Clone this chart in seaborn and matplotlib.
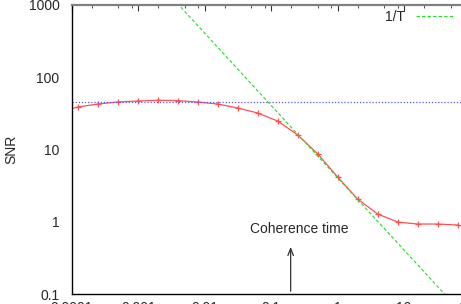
import matplotlib
matplotlib.use("Agg")
import matplotlib.pyplot as plt
import matplotlib.ticker as mticker
import seaborn as sns
import pandas as pd
import numpy as np

# integration time T (powers of two) and measured SNR
T = [2.0 ** k for k in range(-14, 7)]
snr = [33.0, 38.7, 42.6, 45.4, 46.9, 48.0, 47.5, 45.4, 42.6, 37.5, 32.0,
       24.8, 15.9, 8.7, 4.16, 2.06, 1.28, 0.99, 0.93, 0.93, 0.90]

# 1/T reference line (end points)
fit_T = [0.001, 100.0]
fit_snr = [4060.0, 0.0406]

# flat SNR level (dotted blue)
snr_level = 45.5

xticks = [0.0001, 0.001, 0.01, 0.1, 1, 10, 100]
xtick_labels = ["0.0001", "0.001", "0.01", "0.1", "1", "10", "100"]
yticks = [0.1, 1, 10, 100, 1000]
ytick_labels = ["0.1", "1", "10", "100", "1000"]

sns.set_theme(style="white")
plt.rcParams["font.family"] = ["Liberation Sans", "DejaVu Sans"]
plt.rcParams["font.size"] = 10

fig = plt.figure(figsize=(4.61, 3.04), dpi=100)
ax = fig.add_axes([72 / 461, 10 / 304, 398.5 / 461, 289 / 304])

df = pd.DataFrame({"T": T, "SNR": snr})
fit_df = pd.DataFrame({"T": fit_T, "SNR": fit_snr})

green = "#22dd22"
sns.lineplot(data=df, x="T", y="SNR", ax=ax, color="#ff5050", lw=0.9,
             marker="+", markersize=5, markeredgewidth=0.9,
             markeredgecolor="#ff5050")
ax.axhline(snr_level, color="#5555ff", lw=0.9, ls=(0, (1, 1.5)))
sns.lineplot(data=fit_df, x="T", y="SNR", ax=ax, color=green, lw=0.8,
             ls=(0, (3, 2)))
fit_line = ax.get_lines()[-1]

ax.set_xscale("log")
ax.set_yscale("log")
ax.set_xlim(0.0001, 100)
ax.set_ylim(0.1, 1000)

ax.set_xticks(xticks)
ax.set_xticklabels(xtick_labels)
ax.set_yticks(yticks)
ax.set_yticklabels(ytick_labels)
ax.xaxis.set_minor_locator(mticker.LogLocator(base=10, subs=[2, 5, 8]))
ax.xaxis.set_minor_formatter(mticker.NullFormatter())
ax.yaxis.set_minor_locator(mticker.LogLocator(base=10, subs=np.arange(2, 10)))
ax.yaxis.set_minor_formatter(mticker.NullFormatter())

ax.tick_params(which="both", direction="in", top=True, right=True,
               color="#333333", labelsize=10)
ax.tick_params(which="major", length=4, width=0.8)
ax.tick_params(which="minor", length=2.5, width=0.6)
ax.tick_params(axis="y", pad=9)
ax.tick_params(axis="x", pad=5)

for side in ["left", "bottom"]:
    ax.spines[side].set_color("black")
    ax.spines[side].set_linewidth(1.0)
ax.spines["top"].set_color("#808080")
ax.spines["top"].set_linewidth(1.6)
ax.spines["right"].set_color("#808080")

ax.set_xlabel("")
ax.set_ylabel("SNR", fontsize=10)
ax.yaxis.set_label_coords((18 - 72) / 398.5, 0.5)

ax.annotate("", xy=(0.196, 0.49), xytext=(0.196, 0.1),
            arrowprops=dict(arrowstyle="->,head_length=0.5,head_width=0.2",
                            color="#333333", lw=0.9))
ax.text(0.268, 0.79, "Coherence time", ha="center", va="center", fontsize=10)

ax.legend([fit_line], ["1/T"], loc="upper right",
          bbox_to_anchor=(455 / 461, 1 - 10 / 304),
          bbox_transform=fig.transFigure, frameon=False, markerfirst=False,
          handlelength=2.8, handletextpad=0.8, fontsize=10,
          borderaxespad=0, borderpad=0)

fig.savefig("out.png", dpi=100)
